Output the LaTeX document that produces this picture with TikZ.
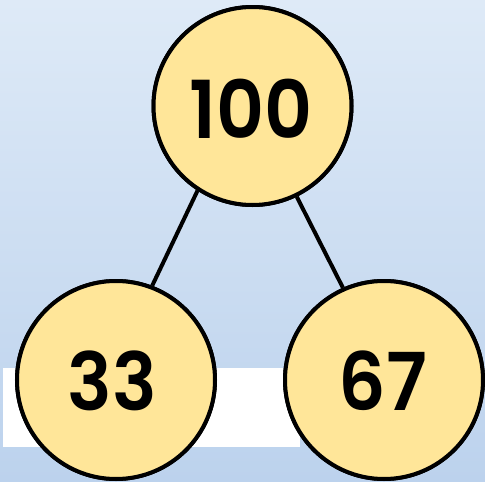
\documentclass[tikz,border=0pt]{standalone}
\usepackage{fontspec}
\setmainfont{Poppins}[BoldFont=* SemiBold,BoldFeatures={FakeStretch=0.93}]
\begin{document}
\begin{tikzpicture}[x=1pt,y=-1pt,
  numball/.style={circle,draw=black,line width=4pt,fill=ballfill,
    minimum size=198pt,inner sep=0pt},
  numtext/.style={font=\fontsize{80}{80}\selectfont\bfseries,inner sep=0pt},
  link/.style={line width=4pt,draw=black}]
  \definecolor{ballfill}{HTML}{FFE699}
  \definecolor{skytop}{RGB}{222,234,247}
  \definecolor{skybottom}{RGB}{188,210,237}
  % backdrop and white band
  \shade[top color=skytop,bottom color=skybottom] (0,0) rectangle (485,482);
  \useasboundingbox (0,0) rectangle (485,482);
  \fill[white] (3,368) rectangle (300,447);
  % number bond: whole on top, parts below
  \node[numball] (whole) at (252.5,106) {};
  \node[numball] (partA) at (116,380) {};
  \node[numball] (partB) at (384,380) {};
  \draw[link] (whole.237.5) -- (partA.69.6);
  \draw[link] (whole.296.3) -- (partB.114.5);
  \node[numball] at (whole) {};
  \node[numball] at (partA) {};
  \node[numball] at (partB) {};
  \node[numtext] (wholelabel) at (251,108.5) {100};
  \node[numtext] (partAlabel) at (112.5,381) {33};
  \node[numtext] (partBlabel) at (383,380.5) {67};
\end{tikzpicture}
\end{document}
